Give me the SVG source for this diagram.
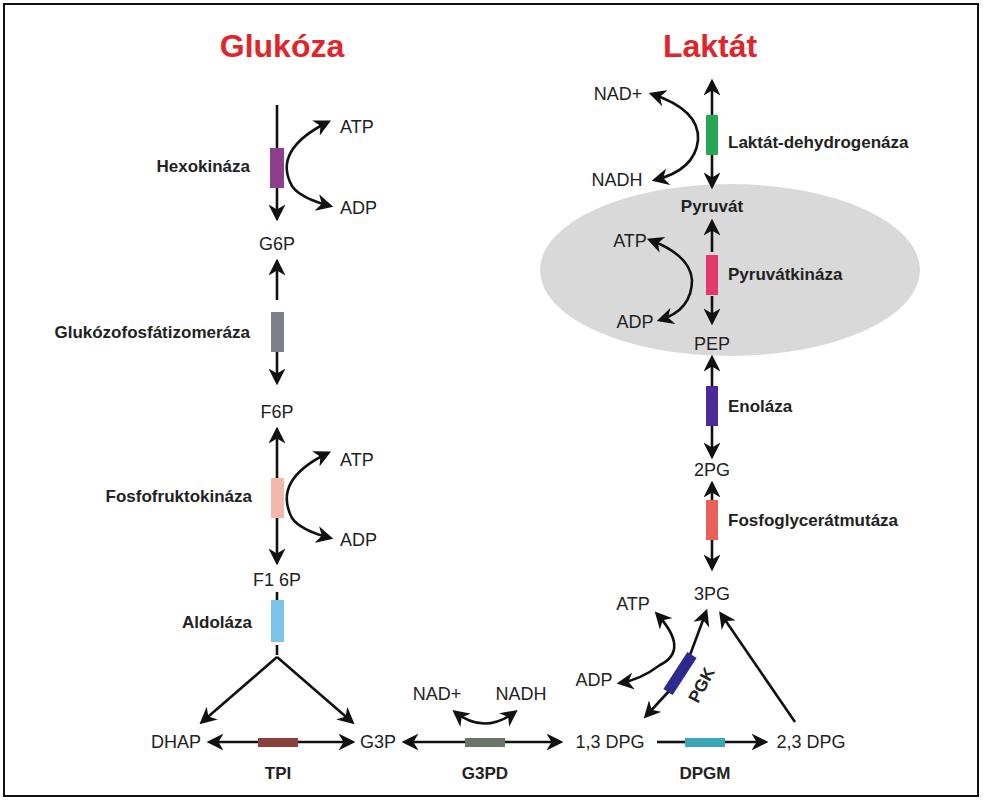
<svg xmlns="http://www.w3.org/2000/svg" width="983" height="800" viewBox="0 0 983 800">
<style>
.m{font-family:"Liberation Sans",Arial,sans-serif;font-size:18px;fill:#222}
.e{font-family:"Liberation Sans",Arial,sans-serif;font-size:17px;font-weight:bold;fill:#222}
.t{font-family:"Liberation Sans",Arial,sans-serif;font-size:32px;font-weight:bold;fill:#e0262a;text-anchor:middle}
.l{stroke:#111;stroke-width:2.6;fill:none;marker-end:url(#a)}
.n{stroke:#111;stroke-width:2.6;fill:none}
</style>
<defs>
<marker id="a" viewBox="0 0 10 10" refX="8" refY="5" markerWidth="6.5" markerHeight="6.5" orient="auto-start-reverse" markerUnits="strokeWidth"><path d="M0,0L10,5L0,10L3,5z" fill="#111"/></marker>
</defs>
<rect x="0" y="0" width="983" height="800" fill="#fff"/>
<rect x="4" y="4" width="974" height="792" fill="none" stroke="#111" stroke-width="2"/>
<ellipse cx="730" cy="270" rx="190" ry="86" fill="#d9d9d9"/>
<text class="t" x="282" y="57">Glukóza</text>
<text class="t" x="710" y="57">Laktát</text>
<g id="connectors">
<path class="l" d="M277,105V218"/>
<path class="l" d="M328,122Q272,150 292,186Q300,198 330,206" marker-start="url(#a)"/>
<path class="l" d="M277,300V262"/>
<path class="l" d="M277,352V382"/>
<path class="l" d="M277,478V430"/>
<path class="l" d="M328,453Q272,480 292,518Q300,530 330,538" marker-start="url(#a)"/>
<path class="l" d="M277,518V562"/>
<path class="n" d="M277,592V600"/>
<path class="n" d="M277,645V655"/>
<path class="l" d="M277,657L202,722"/>
<path class="l" d="M277,657L352,722"/>
<path class="l" d="M258,742H210"/>
<path class="l" d="M298,742H352"/>
<path class="l" d="M465,742H405"/>
<path class="l" d="M505,742H560"/>
<path class="l" d="M455,712Q484,735 515,712" marker-start="url(#a)"/>
<path class="n" d="M657,742H685"/>
<path class="l" d="M725,742H765"/>
<path class="l" d="M712,115V82"/>
<path class="l" d="M712,155V186"/>
<path class="l" d="M652,94Q700,110 698,140Q695,170 655,180" marker-start="url(#a)"/>
<path class="l" d="M712,252V222"/>
<path class="l" d="M712,296V322"/>
<path class="l" d="M650,240Q690,255 692,280Q692,310 660,320" marker-start="url(#a)"/>
<path class="l" d="M712,386V358"/>
<path class="l" d="M712,426V456"/>
<path class="l" d="M712,500V484"/>
<path class="l" d="M712,540V568"/>
<path class="l" d="M690,655L706,612"/>
<path class="l" d="M670,690L646,716"/>
<path class="l" d="M657,614Q690,650 660,665Q640,680 620,683" marker-start="url(#a)"/>
<path class="l" d="M795,722L721,614"/>
</g>
<g id="hexokinaza"><rect x="270" y="148" width="14" height="40" fill="#8e3e8f"/><text class="e" x="250" y="172" text-anchor="end">Hexokináza</text></g>
<g id="atp1"><text class="m" x="340" y="133">ATP</text></g>
<g id="adp1"><text class="m" x="340" y="214">ADP</text></g>
<g id="g6p"><text class="m" x="277" y="250" text-anchor="middle">G6P</text></g>
<g id="gpi"><rect x="271" y="312" width="13" height="40" fill="#7c8089"/><text class="e" x="250" y="338" text-anchor="end">Glukózofosfátizomeráza</text></g>
<g id="f6p"><text class="m" x="277" y="418" text-anchor="middle">F6P</text></g>
<g id="pfk"><rect x="271" y="478" width="13" height="40" fill="#f2b8aa"/><text class="e" x="252" y="502" text-anchor="end">Fosfofruktokináza</text></g>
<g id="atp2"><text class="m" x="340" y="466">ATP</text></g>
<g id="adp2"><text class="m" x="340" y="546">ADP</text></g>
<g id="f16p"><text class="m" x="277" y="586" text-anchor="middle">F1 6P</text></g>
<g id="aldolaza"><rect x="271" y="600" width="13" height="42" fill="#7cc3ea"/><text class="e" x="252" y="628" text-anchor="end">Aldoláza</text></g>
<g id="dhap"><text class="m" x="176" y="748" text-anchor="middle">DHAP</text></g>
<g id="tpi"><rect x="258" y="738" width="40" height="9" fill="#8b3f3a"/><text class="e" x="278" y="779" text-anchor="middle">TPI</text></g>
<g id="g3p"><text class="m" x="378" y="748" text-anchor="middle">G3P</text></g>
<g id="g3pd"><rect x="465" y="738" width="40" height="9" fill="#6b7468"/><text class="e" x="485" y="779" text-anchor="middle">G3PD</text></g>
<g id="nad2"><text class="m" x="437" y="700" text-anchor="middle">NAD+</text></g>
<g id="nadh2"><text class="m" x="521" y="700" text-anchor="middle">NADH</text></g>
<g id="dpg13"><text class="m" x="610" y="748" text-anchor="middle">1,3 DPG</text></g>
<g id="dpgm"><rect x="685" y="738" width="40" height="9" fill="#3aa6b8"/><text class="e" x="705" y="779" text-anchor="middle">DPGM</text></g>
<g id="dpg23"><text class="m" x="811" y="748" text-anchor="middle">2,3 DPG</text></g>
<g id="ldh"><rect x="706" y="115" width="12" height="40" fill="#2aa455"/><text class="e" x="728" y="148">Laktát-dehydrogenáza</text></g>
<g id="nad1"><text class="m" x="618" y="100" text-anchor="middle">NAD+</text></g>
<g id="nadh1"><text class="m" x="617" y="186" text-anchor="middle">NADH</text></g>
<g id="pyruvat"><text class="e" x="712" y="212" text-anchor="middle">Pyruvát</text></g>
<g id="pk"><rect x="706" y="255" width="12" height="40" fill="#e23b6b"/><text class="e" x="728" y="280">Pyruvátkináza</text></g>
<g id="atp3"><text class="m" x="630" y="247" text-anchor="middle">ATP</text></g>
<g id="adp3"><text class="m" x="635" y="328" text-anchor="middle">ADP</text></g>
<g id="pep"><text class="m" x="712" y="350" text-anchor="middle">PEP</text></g>
<g id="enolaza"><rect x="706" y="386" width="12" height="40" fill="#4b2a98"/><text class="e" x="728" y="412">Enoláza</text></g>
<g id="pg2"><text class="m" x="712" y="476" text-anchor="middle">2PG</text></g>
<g id="pgm"><rect x="706" y="500" width="12" height="40" fill="#e8605a"/><text class="e" x="728" y="526">Fosfoglycerátmutáza</text></g>
<g id="pg3"><text class="m" x="712" y="600" text-anchor="middle">3PG</text></g>
<g id="pgk"><line x1="692" y1="655" x2="668" y2="692" stroke="#2a2a8f" stroke-width="11"/><text class="e" transform="translate(698,704) rotate(-62)">PGK</text></g>
<g id="atp4"><text class="m" x="633" y="610" text-anchor="middle">ATP</text></g>
<g id="adp4"><text class="m" x="594" y="686" text-anchor="middle">ADP</text></g>
</svg>
